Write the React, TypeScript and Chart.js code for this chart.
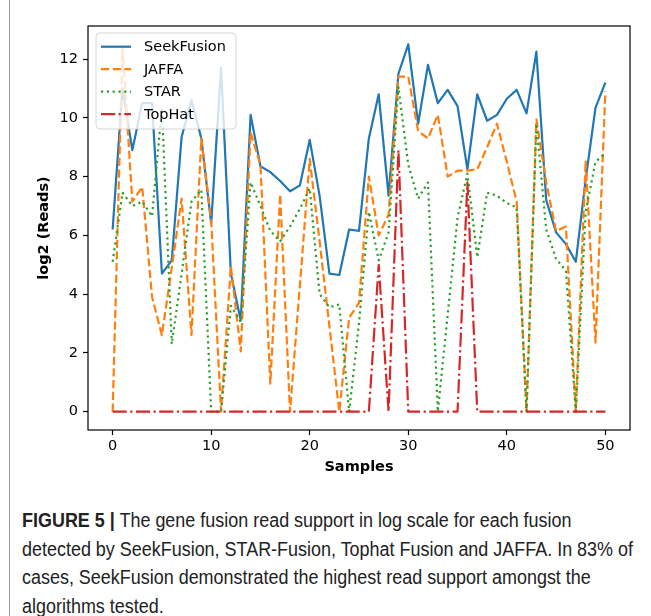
import React, { useEffect, useLayoutEffect, useRef, useState } from "react";
import { Chart, registerables } from "chart.js";

Chart.register(...registerables);

// ---------- data ----------
const samples = [
  0, 1, 2, 3, 4, 5, 6, 7, 8, 9, 10, 11, 12, 13, 14, 15, 16, 17, 18, 19, 20, 21, 22, 23, 24, 25,
  26, 27, 28, 29, 30, 31, 32, 33, 34, 35, 36, 37, 38, 39, 40, 41, 42, 43, 44, 45, 46, 47, 48, 49, 50,
];
const seekFusion = [
  6.2, 11.0, 8.9, 10.5, 10.5, 4.7, 5.15, 9.35, 10.6, 9.3, 6.4, 11.7, 4.7, 3.1, 10.1, 8.35, 8.15, 7.85, 7.5, 7.7, 9.25,
  7.35, 4.7, 4.65, 6.2, 6.15, 9.3, 10.8, 7.35, 11.5, 12.5, 9.8, 11.8, 10.5, 10.95, 10.4, 8.25, 10.8, 9.9, 10.1, 10.65,
  10.95, 10.15, 12.25, 7.2, 6.1, 5.7, 5.1, 7.9, 10.35, 11.2,
];
const jaffa = [
  0, 12.4, 7.15, 7.65, 3.9, 2.6, 4.9, 7.25, 2.6, 9.3, 6.5, 0, 4.95, 2.05, 9.5, 8.4, 0.95, 7.4, 0, 4.3, 8.6,
  5.8, 2.9, 0, 3.2, 3.7, 8.0, 6.0, 6.7, 11.4, 11.4, 9.55, 9.3, 10.1, 8.0, 8.2, 8.2, 8.25, 9.0, 9.8, 8.5,
  7.15, 0, 9.95, 7.8, 6.15, 6.3, 0, 8.55, 2.35, 10.9,
];
const star = [
  5.1, 7.45, 7.0, 7.15, 6.65, 10.35, 2.3, 4.7, 7.15, 7.55, 0, 0, 3.6, 3.05, 7.8, 7.0, 6.15, 5.8, 6.3, 6.9, 7.6,
  4.0, 3.55, 3.65, 0, 3.0, 6.8, 5.15, 6.1, 11.05, 8.4, 7.25, 7.8, 0, 3.3, 6.6, 8.1, 5.25, 7.45, 7.35, 7.1,
  6.95, 0, 9.8, 6.2, 5.2, 4.8, 0, 6.8, 8.5, 8.8,
];
const topHat = [
  0, 0, 0, 0, 0, 0, 0, 0, 0, 0, 0, 0, 0, 0, 0, 0, 0, 0, 0, 0, 0,
  0, 0, 0, 0, 0, 0, 5.0, 0, 8.9, 0, 0, 0, 0, 0, 0, 7.8, 0, 0, 0, 0,
  0, 0, 0, 0, 0, 0, 0, 0, 0, 0,
];
const seriesNames = ["SeekFusion", "JAFFA", "STAR", "TopHat"];
const xTicks = [0, 10, 20, 30, 40, 50];
const yTicks = [0, 2, 4, 6, 8, 10, 12];
const xTitle = "Samples";
const yTitle = "log2 (Reads)";
const captionBold = "FIGURE 5 |";
const captionLines = [
  " The gene fusion read support in log scale for each fusion",
  "detected by SeekFusion, STAR-Fusion, Tophat Fusion and JAFFA. In 83% of",
  "cases, SeekFusion demonstrated the highest read support amongst the",
  "algorithms tested.",
];

// ---------- styles ----------
const FONT = "'DejaVu Sans', sans-serif";
const FS = 14.5;
const LW = 2.2;
const CAPTION_LINE2_WIDTH = 611;

const legendPlugin = {
  id: "mplFrameLegend",
  afterDatasetsDraw(chart: any) {
    const ctx = chart.ctx as CanvasRenderingContext2D;
    const ca = chart.chartArea;
    ctx.save();
    ctx.setLineDash([]);
    ctx.strokeStyle = "#000";
    ctx.lineWidth = 1.2;
    ctx.strokeRect(ca.left, ca.top, ca.right - ca.left, ca.bottom - ca.top);

    const x0 = ca.left + 8;
    const y0 = ca.top + 7;
    const w = 140;
    const h = 96;
    const r = 4;
    ctx.beginPath();
    ctx.moveTo(x0 + r, y0);
    ctx.lineTo(x0 + w - r, y0);
    ctx.arcTo(x0 + w, y0, x0 + w, y0 + r, r);
    ctx.lineTo(x0 + w, y0 + h - r);
    ctx.arcTo(x0 + w, y0 + h, x0 + w - r, y0 + h, r);
    ctx.lineTo(x0 + r, y0 + h);
    ctx.arcTo(x0, y0 + h, x0, y0 + h - r, r);
    ctx.lineTo(x0, y0 + r);
    ctx.arcTo(x0, y0, x0 + r, y0, r);
    ctx.closePath();
    ctx.fillStyle = "rgba(255,255,255,0.8)";
    ctx.fill();
    ctx.strokeStyle = "rgba(204,204,204,0.8)";
    ctx.lineWidth = 1;
    ctx.stroke();

    ctx.font = `${FS}px ${FONT}`;
    ctx.textBaseline = "middle";
    ctx.textAlign = "left";
    chart.data.datasets.forEach((ds: any, i: number) => {
      const cy = y0 + 13.7 + i * 22.5;
      ctx.beginPath();
      ctx.setLineDash(ds.borderDash || []);
      ctx.lineCap = "butt";
      ctx.strokeStyle = ds.borderColor;
      ctx.lineWidth = ds.borderWidth;
      ctx.moveTo(x0 + 5, cy);
      ctx.lineTo(x0 + 35, cy);
      ctx.stroke();
      ctx.setLineDash([]);
      ctx.fillStyle = "#000";
      ctx.fillText(ds.label, x0 + 48, cy + 1);
    });
    ctx.restore();
  },
};

function toPoints(vals: number[]) {
  return samples.map((s, i) => ({ x: s, y: vals[i] }));
}

export default function App() {
  const ref = useRef<HTMLCanvasElement | null>(null);
  const measureRef = useRef<HTMLSpanElement | null>(null);
  const [scale, setScale] = useState(1);

  useLayoutEffect(() => {
    if (measureRef.current) {
      const w = measureRef.current.getBoundingClientRect().width;
      if (w > 0) setScale(CAPTION_LINE2_WIDTH / w);
    }
  }, []);

  useEffect(() => {
    if (!ref.current) return;
    const tickFont = { family: FONT, size: FS };
    const titleFont = { family: FONT, size: FS, weight: "bold" as const };
    const chart = new Chart(ref.current, {
      type: "line",
      data: {
        datasets: [
          { label: seriesNames[0], data: toPoints(seekFusion), borderColor: "#1f77b4", borderWidth: LW, borderDash: [], order: 3 },
          { label: seriesNames[1], data: toPoints(jaffa), borderColor: "#ff7f0e", borderWidth: LW, borderDash: [8.2, 3.5], order: 2 },
          { label: seriesNames[2], data: toPoints(star), borderColor: "#2ca02c", borderWidth: LW, borderDash: [2.2, 3.6], order: 1 },
          { label: seriesNames[3], data: toPoints(topHat), borderColor: "#d62728", borderWidth: LW, borderDash: [14.1, 3.5, 2.2, 3.5], order: 0 },
        ] as any,
      },
      options: {
        animation: false,
        responsive: false,
        maintainAspectRatio: false,
        devicePixelRatio: 1,
        layout: { padding: { left: 36, top: 26, right: 21, bottom: 4 } },
        plugins: { legend: { display: false }, tooltip: { enabled: false } },
        elements: {
          point: { radius: 0, hoverRadius: 0 },
          line: { tension: 0, borderJoinStyle: "round", fill: false },
        },
        scales: {
          x: {
            type: "linear",
            min: -2.5,
            max: 52.5,
            afterBuildTicks: (s: any) => {
              s.ticks = xTicks.map((v) => ({ value: v }));
            },
            afterFit: (s: any) => {
              s.height = 46;
            },
            grid: { display: true, drawOnChartArea: false, drawTicks: true, tickLength: 5, tickWidth: 1.2, tickColor: "#000" },
            border: { display: false },
            ticks: { color: "#000", font: tickFont, padding: 3, maxRotation: 0, autoSkip: false },
            title: { display: true, text: xTitle, color: "#000", font: titleFont, padding: { top: 0, bottom: 0 } },
          },
          y: {
            type: "linear",
            min: -0.625,
            max: 13.125,
            afterBuildTicks: (s: any) => {
              s.ticks = yTicks.map((v) => ({ value: v }));
            },
            afterFit: (s: any) => {
              s.width = 52;
            },
            grid: { display: true, drawOnChartArea: false, drawTicks: true, tickLength: 5, tickWidth: 1.2, tickColor: "#000" },
            border: { display: false },
            ticks: { color: "#000", font: tickFont, padding: 5, autoSkip: false },
            title: { display: true, text: yTitle, color: "#000", font: titleFont, padding: { top: 0, bottom: 0 } },
          },
        },
      } as any,
      plugins: [legendPlugin],
    });
    return () => chart.destroy();
  }, []);

  return (
    <div style={{ position: "absolute", left: 0, top: 0, width: 651, height: 616, background: "#fff", overflow: "hidden" }}>
      <div style={{ position: "absolute", left: 9, top: 0, width: 1, height: 616, background: "#9a9a9a" }} />
      <canvas ref={ref} width={651} height={480} style={{ position: "absolute", left: 0, top: 0, width: 651, height: 480 }} />
      <div
        style={{
          position: "absolute",
          left: 22,
          top: 506,
          fontFamily: "'Liberation Sans', Arial, sans-serif",
          fontSize: 20,
          lineHeight: "28.5px",
          color: "#222",
          whiteSpace: "nowrap",
          transform: `scaleX(${scale})`,
          transformOrigin: "left top",
        }}
      >
        {captionLines.map((line, i) => (
          <div key={i}>
            <span ref={i === 1 ? measureRef : undefined}>
              {i === 0 ? <b>{captionBold}</b> : null}
              {line}
            </span>
          </div>
        ))}
      </div>
    </div>
  );
}
